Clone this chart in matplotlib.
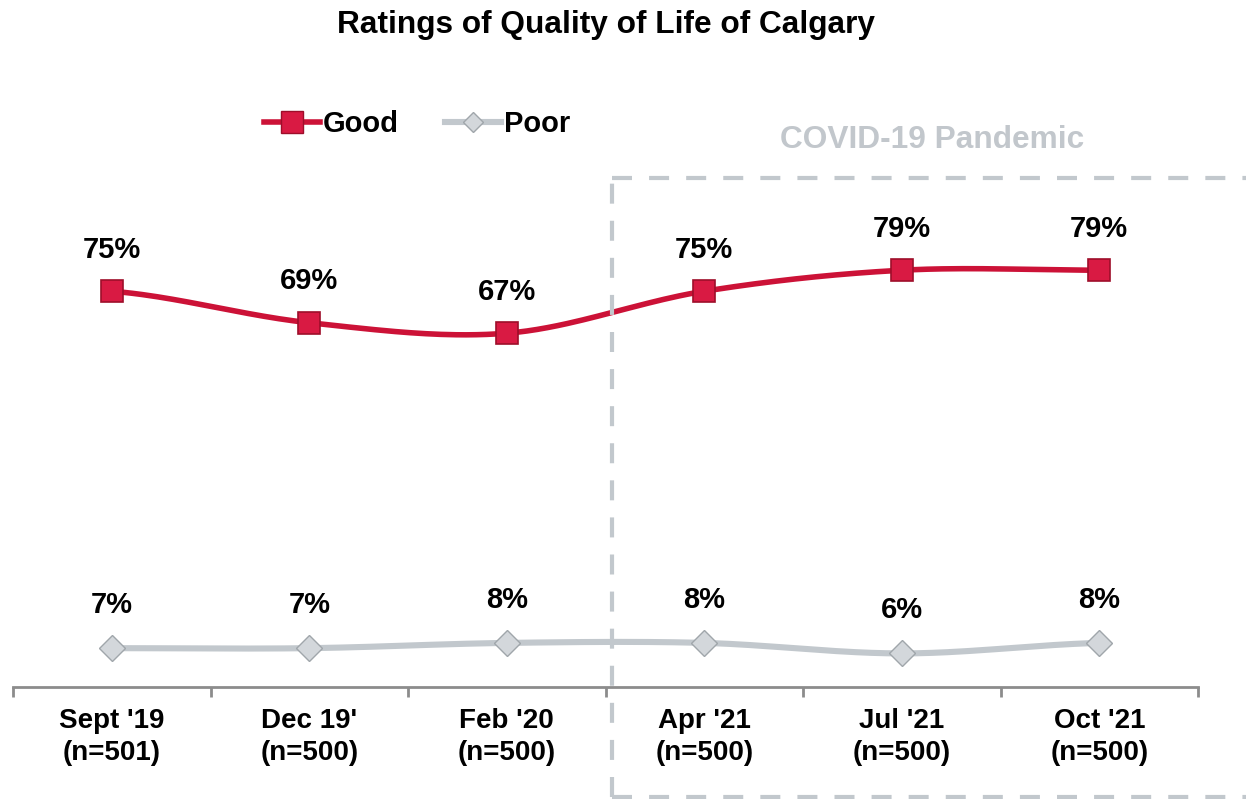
import matplotlib.pyplot as plt
from matplotlib.lines import Line2D
import numpy as np

plt.rcParams['font.family'] = ['Liberation Sans', 'DejaVu Sans']

periods = ["Sept '19\n(n=501)", "Dec 19'\n(n=500)", "Feb '20\n(n=500)",
           "Apr '21\n(n=500)", "Jul '21\n(n=500)", "Oct '21\n(n=500)"]
good = [75, 69, 67, 75, 79, 79]
poor = [7, 7, 8, 8, 6, 8]

RED = '#cc1237'
GRAY = '#c2c8cd'


def smooth(xs, ys, n=40):
    """Catmull-Rom curve through the points, like Excel's smoothed line."""
    xs = np.asarray(xs, float)
    ys = np.asarray(ys, float)
    px = np.concatenate([[2 * xs[0] - xs[1]], xs, [2 * xs[-1] - xs[-2]]])
    py = np.concatenate([[ys[0]], ys, [ys[-1]]])
    ox, oy = [], []
    t = np.linspace(0, 1, n)
    for i in range(1, len(px) - 2):
        for p, out in ((px, ox), (py, oy)):
            p0, p1, p2, p3 = p[i - 1], p[i], p[i + 1], p[i + 2]
            out.extend(0.5 * (2 * p1 + (-p0 + p2) * t
                              + (2 * p0 - 5 * p1 + 4 * p2 - p3) * t ** 2
                              + (-p0 + 3 * p1 - 3 * p2 + p3) * t ** 3))
    return ox, oy


fig = plt.figure(figsize=(12.46, 7.99), dpi=100)
ax = fig.add_axes([13 / 1246, 112 / 799, 1185 / 1246, 527 / 799])

x = np.arange(len(periods))

gx, gy = smooth(x, good)
ax.plot(gx, gy, color=RED, lw=4, solid_capstyle='round', zorder=2)
ax.plot(x, good, ls='none', marker='s', ms=15.5, mfc='#d91a43', mec='#9e0e2a', mew=1.2, zorder=3)

px_, py_ = smooth(x, poor)
ax.plot(px_, py_, color=GRAY, lw=4.4, solid_capstyle='round', zorder=2)
ax.plot(x, poor, ls='none', marker='D', ms=13, mfc='#d3d7db', mec='#a0a6ab', mew=1.0, zorder=3)

for xi, v in zip(x, good):
    ax.annotate(f"{v}%", (xi, v), xytext=(0, 30), textcoords='offset points',
                ha='center', va='center', fontsize=21, fontweight='bold')
for xi, v in zip(x, poor):
    ax.annotate(f"{v}%", (xi, v), xytext=(0, 31), textcoords='offset points',
                ha='center', va='center', fontsize=21, fontweight='bold')

ax.set_xlim(-0.5, len(periods) - 0.5)
ax.set_ylim(-0.4, 100)
ax.set_xticks(x)
ax.set_xticklabels(periods, fontsize=20, fontweight='bold', linespacing=1.3)
ax.set_xticks(np.arange(-0.5, len(periods)), minor=True)
ax.tick_params(axis='x', which='major', length=0, pad=15)
ax.tick_params(axis='x', which='minor', length=7, width=2, color='#8c8c8c', direction='out')
ax.set_yticks([])
for s in ['top', 'right', 'left']:
    ax.spines[s].set_visible(False)
ax.spines['bottom'].set_color('#8c8c8c')
ax.spines['bottom'].set_linewidth(2)

fig.text(606 / 1246, 1 - 25 / 799, "Ratings of Quality of Life of Calgary",
         ha='center', va='center', fontsize=22.8, fontweight='bold')

handles = [Line2D([], [], color=RED, lw=4, marker='s', ms=15.5, mfc='#d91a43', mec='#9e0e2a'),
           Line2D([], [], color=GRAY, lw=4.4, marker='D', ms=10, mfc='#d3d7db', mec='#a0a6ab')]
fig.legend(handles, ['Good', 'Poor'], loc='center left', bbox_to_anchor=(238 / 1246, 1 - 124 / 799),
           ncol=2, frameon=False, handlelength=1.9, handletextpad=0.1,
           columnspacing=1.6, prop={'weight': 'bold', 'size': 21})

# COVID-19 box
fig.text(932 / 1246, 1 - 140 / 799, "COVID-19 Pandemic", ha='center', va='center',
         fontsize=22.8, fontweight='bold', color='#c2c7cc')
bx0, by0, by1, bx1 = 612 / 1246, 1 - 797 / 799, 1 - 178 / 799, 1250 / 1246
dash = dict(color='#c2c8cd', lw=3, ls=(0, (4.8, 4.1)), transform=fig.transFigure)
fig.add_artist(Line2D([bx0, bx0], [by0, by1], **dash))
fig.add_artist(Line2D([bx0, bx1], [by1, by1], **dash))
fig.add_artist(Line2D([bx0, bx1], [by0, by0], **dash))

fig.savefig('out.png', dpi=100)
